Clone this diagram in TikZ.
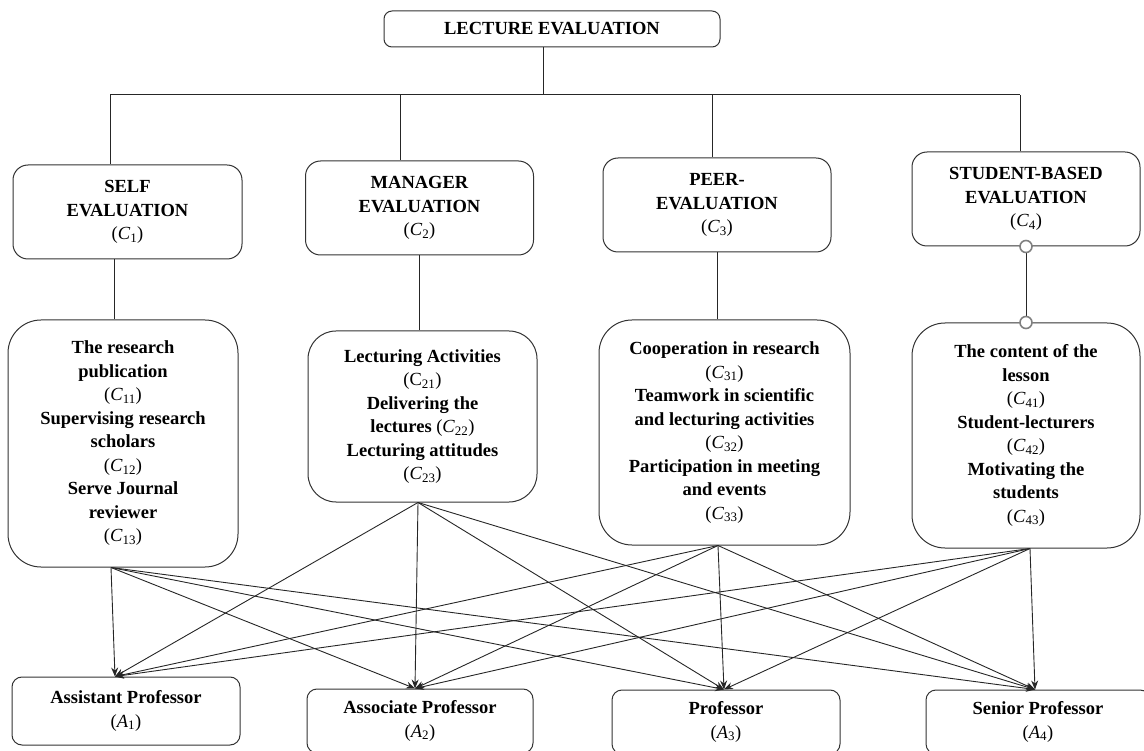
\documentclass[tikz,border=0pt]{standalone}
\usepackage{fontspec}
\setmainfont{Liberation Serif}
\usetikzlibrary{arrows.meta,positioning,calc}

% index label, e.g. (C_1)
\newcommand{\idx}[2]{{\mdseries(\textit{#1}\textsubscript{#2})}}

\begin{document}
\begin{tikzpicture}[x=1pt, y=-1pt,
    every node/.style={font=\fontsize{18.5}{23.5}\selectfont\bfseries, align=center, inner sep=0pt},
    head/.style={rectangle, draw=black!80, line width=1pt, rounded corners=8pt, minimum width=336pt, minimum height=36pt},
    crit/.style={rectangle, draw=black!80, line width=1pt, rounded corners=15pt, minimum width=228pt, minimum height=94pt},
    sub/.style={rectangle, draw=black!80, line width=1pt, rounded corners=33pt},
    alt/.style={rectangle, draw=black!80, line width=1pt, rounded corners=10pt, minimum width=226pt, minimum height=64pt},
    link/.style={line width=1pt, black!85},
    arr/.style={line width=0.9pt, black!85, -{Stealth[length=9pt,width=7pt]}},
    knob/.style={circle, draw=black!50, fill=white, line width=1.6pt, minimum size=12pt}]
    \useasboundingbox (0,0) rectangle (1144,751);

    % Goal
    \node[head] (lect) at (552,29) {LECTURE EVALUATION};

    % Main criteria
    \node[crit, minimum width=229pt] (c1) at (127.5,212) {SELF\\ EVALUATION\\ \idx{C}{1}};
    \node[crit] (c2) at (419.5,208) {MANAGER\\ EVALUATION\\ \idx{C}{2}};
    \node[crit] (c3) at (717,205) {PEER-\\ EVALUATION\\ \idx{C}{3}};
    \node[crit] (c4) at (1026,199) {STUDENT-BASED\\ EVALUATION\\ \idx{C}{4}};

    % Sub-criteria
    \node[sub, minimum width=230pt, minimum height=247pt] (c11) at (123,443.5)
        {The research\\ publication\\ \idx{C}{11}\\ Supervising research\\ scholars\\ \idx{C}{12}\\ Serve Journal\\ reviewer\\ \idx{C}{13}};
    \node[sub, rounded corners=28pt, minimum width=229pt, minimum height=171pt] (c21) at (422.5,416.5)
        {Lecturing Activities\\ {\mdseries(C\textsubscript{21})}\\ Delivering the\\ lectures \idx{C}{22}\\ Lecturing attitudes\\ \idx{C}{23}};
    \node[sub, minimum width=251pt, minimum height=225pt] (c31) at (724.5,432.5)
        {Cooperation in research\\ \idx{C}{31}\\ Teamwork in scientific\\ and lecturing activities\\ \idx{C}{32}\\ Participation in meeting\\ and events\\ \idx{C}{33}};
    \node[sub, minimum width=228pt, minimum height=225pt] (c41) at (1026,435.5)
        {The content of the\\ lesson\\ \idx{C}{41}\\ Student-lecturers\\ \idx{C}{42}\\ Motivating the\\ students\\ \idx{C}{43}};

    % Alternatives
    \node[alt, minimum width=228pt, minimum height=68pt] (a1) at (126,711) {Assistant Professor\\ \idx{A}{1}};
    \node[alt] (a2) at (420,721) {Associate Professor\\ \idx{A}{2}};
    \node[alt, minimum width=228pt] (a3) at (726,722) {Professor\\ \idx{A}{3}};
    \node[alt, minimum width=224pt] (a4) at (1038,722) {Senior Professor\\ \idx{A}{4}};

    % Tree lines
    \coordinate (hub) at (543,95);
    \coordinate (j1) at (110,95);
    \coordinate (j2) at (400,95);
    \coordinate (j3) at (712,95);
    \coordinate (j4) at (1020,95);
    \coordinate (k1) at (114,0);
    \draw[link] (hub |- lect.south) -- (hub);
    \draw[link] (j1) -- (j4);
    \draw[link] (j1) -- (j1 |- c1.north);
    \draw[link] (j2) -- (j2 |- c2.north);
    \draw[link] (j3) -- (j3 |- c3.north);
    \draw[link] (j4) -- (j4 |- c4.north);
    \draw[link] (k1 |- c1.south) -- (k1 |- c11.north);
    \draw[link] (c2.south) -- (c2.south |- c21.north);
    \draw[link] (c3.south) -- (c3.south |- c31.north);
    \draw[link] (c4.south) -- (c4.south |- c41.north);
    \node[knob] (o1) at (c4.south) {};
    \node[knob] (o2) at (c4.south |- c41.north) {};

    % Arrow ends
    \coordinate (s1) at ([xshift=-12pt]c11.south);
    \coordinate (s2) at ([xshift=-4.5pt]c21.south);
    \coordinate (s3) at ([xshift=-6.5pt]c31.south);
    \coordinate (s4) at ([xshift=4pt]c41.south);
    \coordinate (t1) at ([xshift=-11pt]a1.north);
    \coordinate (t2) at ([xshift=-5pt]a2.north);
    \coordinate (t3) at ([xshift=-2pt]a3.north);
    \coordinate (t4) at ([xshift=-3pt]a4.north);

    % Arrows
    \draw[arr] (s1) -- (t1);
    \draw[arr] (s1) -- (t2);
    \draw[arr] (s1) -- (t3);
    \draw[arr] (s1) -- (t4);
    \draw[arr] (s2) -- (t1);
    \draw[arr] (s2) -- (t2);
    \draw[arr] (s2) -- (t3);
    \draw[arr] (s2) -- (t4);
    \draw[arr] (s3) -- (t1);
    \draw[arr] (s3) -- (t2);
    \draw[arr] (s3) -- (t3);
    \draw[arr] (s3) -- (t4);
    \draw[arr] (s4) -- (t1);
    \draw[arr] (s4) -- (t2);
    \draw[arr] (s4) -- (t3);
    \draw[arr] (s4) -- (t4);
\end{tikzpicture}
\end{document}
